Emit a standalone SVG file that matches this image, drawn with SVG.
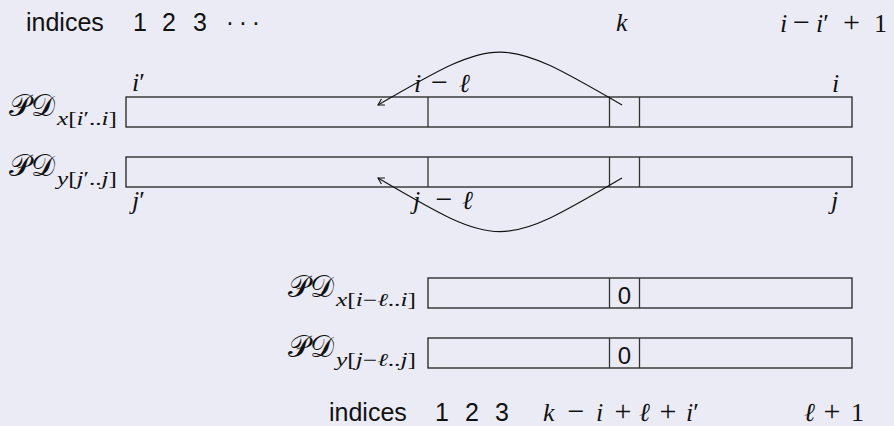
<svg xmlns="http://www.w3.org/2000/svg" width="894" height="426" viewBox="0 0 894 426">
<defs>
<style>
.bg{fill:#EBEBF5}
.bar{fill:none;stroke:#222;stroke-width:1.3}
.div{stroke:#333;stroke-width:1.3}
.sans{font-family:"Liberation Sans","DejaVu Sans",sans-serif;font-size:25px;fill:#111}
.zero{font-family:"Liberation Sans","DejaVu Sans",sans-serif;font-size:24px;fill:#111}
.m{font-family:"Liberation Serif","DejaVu Serif",serif;font-style:italic;font-size:26px;fill:#111}
.op{font-family:"Liberation Serif","DejaVu Serif",serif;font-size:30px;fill:#111;text-anchor:middle}
.num{font-family:"Liberation Serif","DejaVu Serif",serif;font-size:26px;fill:#111}
.r{font-style:normal}
.cal{font-family:"DejaVu Sans","Noto Sans",serif;font-style:normal;font-size:30px;fill:#111}
.sub{font-family:"Liberation Serif","DejaVu Serif",serif;font-style:italic;font-size:18px;fill:#111}
.conn{fill:none;stroke:#111;stroke-width:1.1}
</style>
<marker id="ah" viewBox="-8 -5 10 10" markerWidth="10" markerHeight="10" refX="0" refY="0" orient="auto" markerUnits="userSpaceOnUse">
<path d="M-6,-3.5 L0,0 L-6,3.5" fill="none" stroke="#111" stroke-width="1.1"/>
</marker>
</defs>
<rect class="bg" x="0" y="0" width="894" height="426"/>

<g id="top-indices">
<text class="sans" x="26" y="31">indices</text>
<text class="sans" x="133" y="31">1</text>
<text class="sans" x="162" y="31">2</text>
<text class="sans" x="193" y="31">3</text>
<text class="sans" x="230" y="31" text-anchor="middle">·</text>
<text class="sans" x="243" y="31" text-anchor="middle">·</text>
<text class="sans" x="256" y="31" text-anchor="middle">·</text>
<text class="m" x="616" y="31">k</text>
<text class="m" x="780" y="32">i</text>
<text class="op" x="801.5" y="32">−</text>
<text class="m" x="816" y="32">i<tspan class="r">′</tspan></text>
<text class="op" x="851.5" y="32">+</text>
<text class="num" x="874" y="32">1</text>
</g>

<g id="pdx-full">
<text class="cal" x="9" y="116">𝒫𝒟</text>
<text class="sub" x="57" y="125" textLength="60" lengthAdjust="spacingAndGlyphs">x<tspan class="r">[</tspan>i<tspan class="r">′..</tspan>i<tspan class="r">]</tspan></text>
<rect class="bar" x="126" y="97" width="726" height="30"/>
<line class="div" x1="428" y1="97" x2="428" y2="127"/>
<line class="div" x1="609.5" y1="97" x2="609.5" y2="127"/>
<line class="div" x1="639.5" y1="97" x2="639.5" y2="127"/>
<text class="m" x="132" y="91">i<tspan class="r">′</tspan></text>
<text class="m" x="414" y="92">i</text>
<text class="op" x="439.5" y="92">−</text>
<text class="m" x="459" y="92">ℓ</text>
<text class="m" x="832" y="92">i</text>
</g>

<g id="pdy-full">
<text class="cal" x="9" y="176">𝒫𝒟</text>
<text class="sub" x="57" y="185" textLength="60" lengthAdjust="spacingAndGlyphs">y<tspan class="r">[</tspan>j<tspan class="r">′..</tspan>j<tspan class="r">]</tspan></text>
<rect class="bar" x="126" y="157" width="726" height="30"/>
<line class="div" x1="428" y1="157" x2="428" y2="187"/>
<line class="div" x1="609.5" y1="157" x2="609.5" y2="187"/>
<line class="div" x1="639.5" y1="157" x2="639.5" y2="187"/>
<text class="m" x="132" y="209">j<tspan class="r">′</tspan></text>
<text class="m" x="413" y="209">j</text>
<text class="op" x="444" y="209">−</text>
<text class="m" x="462" y="209">ℓ</text>
<text class="m" x="831" y="209">j</text>
</g>

<g id="pdx-sub">
<text class="cal" x="288" y="297">𝒫𝒟</text>
<text class="sub" x="336" y="306" textLength="80" lengthAdjust="spacingAndGlyphs">x<tspan class="r">[</tspan>i<tspan class="r">−</tspan>ℓ<tspan class="r">..</tspan>i<tspan class="r">]</tspan></text>
<rect class="bar" x="428" y="278" width="424" height="30"/>
<line class="div" x1="609.5" y1="278" x2="609.5" y2="308"/>
<line class="div" x1="639.5" y1="278" x2="639.5" y2="308"/>
<text class="zero" x="624.5" y="304" text-anchor="middle">0</text>
</g>

<g id="pdy-sub">
<text class="cal" x="288" y="357">𝒫𝒟</text>
<text class="sub" x="336" y="366" textLength="80" lengthAdjust="spacingAndGlyphs">y<tspan class="r">[</tspan>j<tspan class="r">−</tspan>ℓ<tspan class="r">..</tspan>j<tspan class="r">]</tspan></text>
<rect class="bar" x="428" y="338" width="424" height="30"/>
<line class="div" x1="609.5" y1="338" x2="609.5" y2="368"/>
<line class="div" x1="639.5" y1="338" x2="639.5" y2="368"/>
<text class="zero" x="624.5" y="364" text-anchor="middle">0</text>
</g>

<g id="bottom-indices">
<text class="sans" x="329" y="421">indices</text>
<text class="sans" x="435" y="421">1</text>
<text class="sans" x="465" y="421">2</text>
<text class="sans" x="495" y="421">3</text>
<text class="m" x="543" y="421">k</text>
<text class="op" x="576" y="421">−</text>
<text class="m" x="596" y="421">i</text>
<text class="op" x="623" y="421">+</text>
<text class="m" x="639" y="421">ℓ</text>
<text class="op" x="668" y="421">+</text>
<text class="m" x="686" y="421">i<tspan class="r">′</tspan></text>
<text class="m" x="804" y="421">ℓ</text>
<text class="op" x="832" y="421">+</text>
<text class="num" x="851" y="421">1</text>
</g>

<g id="connectors">
<path class="conn" d="M622,105 C500,34.5 500,34.5 378,105" marker-end="url(#ah)"/>
<path class="conn" d="M622,178 C500,249.5 500,249.5 378,178" marker-end="url(#ah)"/>
</g>
</svg>
